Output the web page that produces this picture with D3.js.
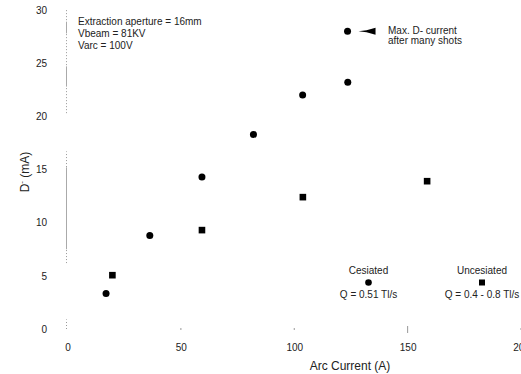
<!DOCTYPE html>
<html>
<head>
<meta charset="utf-8">
<script src="https://cdn.jsdelivr.net/npm/d3@7"></script>
<style>
  body { margin: 0; background: #fff; }
  svg { display: block; font-family: "Liberation Sans", Arial, sans-serif; }
</style>
</head>
<body>
<svg id="chart" width="521" height="374"></svg>
<script>
// data
var cesiatedX = [17, 36.3, 59.3, 82, 103.7, 123.6, 123.5];
var cesiatedY = [3.33, 8.8, 14.3, 18.3, 22.0, 23.2, 28.0];
var uncesiatedX = [19.8, 59.3, 103.8, 158.6];
var uncesiatedY = [5.06, 9.3, 12.4, 13.9];
var xTicks = [0, 50, 100, 150, 200];
var yTicks = [0, 5, 10, 15, 20, 25, 30];
var notes = ["Extraction aperture = 16mm", "Vbeam = 81KV", "Varc = 100V"];
var maxNote = ["Max. D- current", "after many shots"];
// faded bits of the y axis that survived the scan (in mA)
var axisDotted = [[0, 0.9], [6.2, 16.7], [20.3, 30]];
var axisSolid = [[7.5, 15.2], [22.8, 24.7], [27.8, 28.9]];

var svg = d3.select('#chart');
var x = d3.scaleLinear().domain([0, 200]).range([67.5, 521]);
var y = d3.scaleLinear().domain([0, 30]).range([329, 10]);

// y axis: tick labels only, the line is drawn by hand below
var yAxis = d3.axisLeft(y).tickValues(yTicks).tickSize(0).tickPadding(0);
svg.append('g')
    .attr('transform', 'translate(47,0)')
    .call(yAxis)
    .call(function (g) { g.select('.domain').remove(); })
    .selectAll('text')
    .style('font-size', '10px')
    .style('fill', '#222')
    .style('font-family', '"Liberation Sans", Arial, sans-serif');

var xAxis = d3.axisBottom(x).tickValues(xTicks).tickSize(0).tickPadding(0);
svg.append('g')
    .attr('transform', 'translate(0,344)')
    .call(xAxis)
    .call(function (g) { g.select('.domain').remove(); })
    .selectAll('text')
    .style('font-size', '10px')
    .style('fill', '#222')
    .style('font-family', '"Liberation Sans", Arial, sans-serif');

// faint y axis line
svg.selectAll('.ax-dot')
    .data(axisDotted)
    .enter().append('line')
    .attr('class', 'ax-dot')
    .attr('x1', x(0) - 1).attr('x2', x(0) - 1)
    .attr('y1', function (d) { return y(d[0]); })
    .attr('y2', function (d) { return y(d[1]); })
    .style('stroke', '#999')
    .style('stroke-width', 1)
    .style('stroke-dasharray', '1,2');
svg.selectAll('.ax-solid')
    .data(axisSolid)
    .enter().append('line')
    .attr('class', 'ax-solid')
    .attr('x1', x(0) - 1).attr('x2', x(0) - 1)
    .attr('y1', function (d) { return y(d[0]); })
    .attr('y2', function (d) { return y(d[1]); })
    .style('stroke', '#aaa')
    .style('stroke-width', 1);

// little x tick marks
svg.selectAll('.xt')
    .data(xTicks.slice(1))
    .enter().append('line')
    .attr('class', 'xt')
    .attr('x1', function (d) { return x(d); })
    .attr('x2', function (d) { return x(d); })
    .attr('y1', function (d) { return d == 150 ? y(0) - 3 : y(0) - 1; })
    .attr('y2', function (d) { return d == 150 ? y(0) + 4 : y(0) + 1; })
    .style('stroke', '#999')
    .style('stroke-width', 1);

// axis titles
svg.append('text')
    .attr('x', 350).attr('y', 370)
    .attr('text-anchor', 'middle')
    .style('font-size', '12px')
    .style('fill', '#222')
    .text('Arc Current (A)');

var yl = svg.append('text')
    .attr('transform', 'translate(29,172) rotate(-90)')
    .attr('text-anchor', 'middle')
    .style('font-size', '12px')
    .style('fill', '#222');
yl.append('tspan').text('D');
yl.append('tspan').attr('dy', -5).style('font-size', '8px').text('-');
yl.append('tspan').attr('dy', 5).text(' (mA)');

// points
var cesiated = cesiatedX.map(function (v, i) { return { a: v, d: cesiatedY[i] }; });
var uncesiated = uncesiatedX.map(function (v, i) { return { a: v, d: uncesiatedY[i] }; });

svg.selectAll('.pt-c')
    .data(cesiated)
    .enter().append('circle')
    .attr('class', 'pt-c')
    .attr('cx', function (d) { return x(d.a); })
    .attr('cy', function (d) { return y(d.d); })
    .attr('r', 3.5)
    .style('fill', '#000');

svg.selectAll('.pt-u')
    .data(uncesiated)
    .enter().append('rect')
    .attr('class', 'pt-u')
    .attr('x', function (d) { return x(d.a) - 3.3; })
    .attr('y', function (d) { return y(d.d) - 3.3; })
    .attr('width', 6.6).attr('height', 6.6)
    .style('fill', '#000');

// top left notes
svg.selectAll('.note')
    .data(notes)
    .enter().append('text')
    .attr('class', 'note')
    .attr('x', 78)
    .attr('y', function (d, i) { return 24.5 + i * 12.3; })
    .style('font-size', '10px')
    .style('fill', '#222')
    .text(function (d) { return d; });

// arrow pointing at the max point
var maxPt = cesiated[cesiated.length - 1];
var ax = x(maxPt.a), ay = y(maxPt.d);
svg.append('path')
    .attr('d', 'M' + (ax + 11) + ',' + ay + ' L' + (ax + 19) + ',' + (ay - 1) +
        ' L' + (ax + 28) + ',' + (ay - 3.5) + ' L' + (ax + 28) + ',' + (ay + 3.5) +
        ' L' + (ax + 19) + ',' + (ay + 1) + ' Z')
    .style('fill', '#000');

svg.selectAll('.maxnote')
    .data(maxNote)
    .enter().append('text')
    .attr('class', 'maxnote')
    .attr('x', 388)
    .attr('y', function (d, i) { return 34 + i * 9.8; })
    .style('font-size', '10px')
    .style('fill', '#222')
    .text(function (d) { return d; });

// legend
var legend = [
    { name: 'Cesiated', q: 'Q = 0.51 Tl/s', cx: 368.5, shape: 'circle' },
    { name: 'Uncesiated', q: 'Q = 0.4 - 0.8 Tl/s', cx: 482, shape: 'square' }
];
var lg = svg.selectAll('.lg')
    .data(legend)
    .enter().append('g')
    .attr('class', 'lg')
    .attr('transform', function (d) { return 'translate(' + d.cx + ',0)'; });
lg.append('text')
    .attr('y', 274)
    .attr('text-anchor', 'middle')
    .style('font-size', '10px')
    .style('fill', '#222')
    .text(function (d) { return d.name; });
lg.append('text')
    .attr('y', 298)
    .attr('text-anchor', 'middle')
    .style('font-size', '10px')
    .style('fill', '#222')
    .text(function (d) { return d.q; });
lg.filter(function (d) { return d.shape == 'circle'; })
    .append('circle')
    .attr('cy', 282.5).attr('r', 3.3)
    .style('fill', '#000');
lg.filter(function (d) { return d.shape == 'square'; })
    .append('rect')
    .attr('x', -3).attr('y', 279.5)
    .attr('width', 6).attr('height', 6)
    .style('fill', '#000');
</script>
</body>
</html>
